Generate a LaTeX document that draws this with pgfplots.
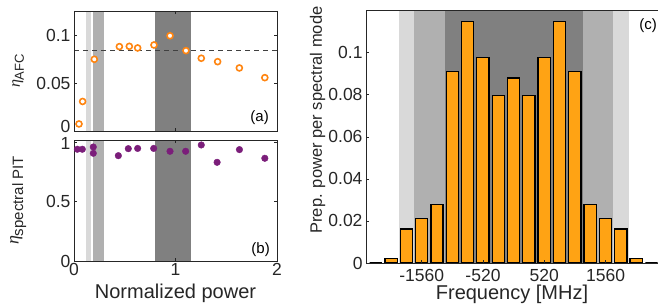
\documentclass[border=0pt]{standalone}
\usepackage{fontspec}
\setmainfont{Liberation Sans}
\newfontfamily\etafont{Liberation Serif}
\usepackage{pgfplots}
\pgfplotsset{compat=1.18}

\definecolor{axgray}{RGB}{38,38,38}
\definecolor{lgray}{RGB}{217,217,217}
\definecolor{mgray}{RGB}{176,176,176}
\definecolor{dgray}{RGB}{128,128,128}
\definecolor{morange}{RGB}{255,133,17}
\definecolor{barorange}{RGB}{255,163,20}
\definecolor{mpurple}{RGB}{123,30,122}

\newcommand{\tickfont}{\fontsize{17.5bp}{17.5bp}\selectfont}
\newcommand{\labfont}{\fontsize{20bp}{20bp}\selectfont}
\newcommand{\panfont}{\fontsize{15bp}{15bp}\selectfont}

\pgfplotsset{
 mystyle/.style={
  scale only axis,
  axis line style={axgray, line width=0.6pt},
  tick style={axgray, line width=0.6pt},
  major tick length=3bp,
  tick align=inside,
  ticklabel style={font=\tickfont, text=axgray},
  label style={text=axgray},
  axis on top,
 }
}

\pgfplotstableread{
x y
0.049 0.0074
0.085 0.031
0.200 0.0753
0.447 0.0886
0.545 0.0889
0.627 0.0872
0.788 0.0903
0.946 0.1000
1.103 0.0844
1.254 0.0764
1.415 0.0728
1.629 0.0662
1.880 0.0560
}\afcdata

\pgfplotstableread{
x y
0.033 0.942
0.082 0.942
0.190 0.961
0.190 0.908
0.437 0.888
0.535 0.947
0.627 0.949
0.785 0.949
0.946 0.925
1.100 0.925
1.254 0.978
1.410 0.832
1.630 0.939
1.880 0.866
}\pitdata

\pgfplotstableread{
f p
-2340 0
-2080 0.0022
-1820 0.0162
-1560 0.0211
-1300 0.0279
-1040 0.0910
-780 0.1147
-520 0.0977
-260 0.0795
0 0.0879
260 0.0795
520 0.0977
780 0.1147
1040 0.0910
1300 0.0279
1560 0.0211
1820 0.0162
2080 0.0022
2340 0
}\bardata

\begin{document}
\begin{tikzpicture}
\path[use as bounding box] (0,0) rectangle (658bp,305bp);

% Panel (a)
\begin{axis}[mystyle, at={(74bp,174bp)}, anchor=south west,
  width=203bp, height=120bp,
  xmin=0, xmax=2, ymin=0, ymax=0.126,
  xtick={0,1,2}, xticklabels={},
  ytick={0,0.05,0.1}, yticklabels={\raisebox{5bp}[\height][\depth]{0},0.05,0.1},
  ylabel={{\fontsize{16bp}{16bp}\selectfont\etafont\itshape η}\raisebox{-4bp}{\fontsize{13bp}{13bp}\selectfont AFC}},
  ylabel style={at={(axis description cs:-0.275,0.5)}, anchor=center},
]
\addplot[draw=none, fill=lgray] coordinates {(0.12,0.126) (0.17,0.126)} \closedcycle;
\addplot[draw=none, fill=mgray] coordinates {(0.185,0.126) (0.30,0.126)} \closedcycle;
\addplot[draw=none, fill=dgray] coordinates {(0.80,0.126) (1.155,0.126)} \closedcycle;
\addplot[color=black!75, line width=1pt, dash pattern=on 5bp off 4bp] coordinates {(0,0.085) (2,0.085)};
\addplot[only marks, mark=*, mark size=3bp, draw=morange, fill=white, line width=1.6pt] table[x=x,y=y] {\afcdata};
\node[anchor=south east, inner sep=0pt, font=\panfont, text=black] at (rel axis cs:1,0) [xshift=-8bp, yshift=6bp] {(a)};
\end{axis}

% Panel (b)
\begin{axis}[mystyle, at={(74bp,44bp)}, anchor=south west,
  width=203bp, height=121bp,
  xmin=0, xmax=2, ymin=0, ymax=1.02,
  xtick={0,1,2}, xticklabels={0,1,2},
  xticklabel style={inner sep=0pt, yshift=-2.5bp},
  ytick={0,0.5,1}, yticklabels={0,0.5,\raisebox{-1.5bp}[\height][\depth]{1}},
  xlabel={Normalized power},
  xlabel style={font=\labfont, at={(axis description cs:0.5,-0.306)}, anchor=base},
  ylabel={{\fontsize{18bp}{18bp}\selectfont\etafont\itshape η}\raisebox{-4.5bp}{\fontsize{15bp}{15bp}\selectfont spectral PIT}},
  ylabel style={at={(axis description cs:-0.275,0.5)}, anchor=center},
]
\addplot[draw=none, fill=lgray] coordinates {(0.12,1.02) (0.17,1.02)} \closedcycle;
\addplot[draw=none, fill=mgray] coordinates {(0.185,1.02) (0.30,1.02)} \closedcycle;
\addplot[draw=none, fill=dgray] coordinates {(0.80,1.02) (1.155,1.02)} \closedcycle;
\addplot[only marks, mark=*, mark size=3.3bp, draw=mpurple, fill=mpurple] table[x=x,y=y] {\pitdata};
\node[anchor=south east, inner sep=0pt, font=\panfont, text=black] at (rel axis cs:1,0) [xshift=-7bp, yshift=4bp] {(b)};
\end{axis}

% Panel (c)
\begin{axis}[mystyle, at={(366bp,42bp)}, anchor=south west,
  width=292bp, height=253bp,
  xmin=-2505, xmax=2450, ymin=0, ymax=0.1203,
  axis x line*=box, axis y line*=left,
  xtick={-1560,-520,520,1560},
  xticklabels={-1560,\raisebox{2.5bp}{-520},520,\raisebox{2.5bp}{1560}},
  xtick pos=left, ytick pos=left,
  xticklabel style={yshift=-3bp},
  ytick={0,0.02,0.04,0.06,0.08,0.1},
  yticklabels={0,0.02,0.04,0.06,0.08,0.1},
  xlabel={Frequency [MHz]},
  xlabel style={font=\labfont, at={(axis description cs:0.5,-0.146)}, anchor=base},
  ylabel={Prep. power per spectral mode},
  ylabel style={font=\fontsize{16.5bp}{16.5bp}\selectfont, at={(axis description cs:-0.166,0.565)}, anchor=center},
]
\addplot[draw=none, fill=lgray] coordinates {(-1950,0.1203) (1950,0.1203)} \closedcycle;
\addplot[draw=none, fill=mgray] coordinates {(-1690,0.1203) (1690,0.1203)} \closedcycle;
\addplot[draw=none, fill=dgray] coordinates {(-1170,0.1203) (1170,0.1203)} \closedcycle;
\addplot[ybar, bar width=208, fill=barorange, draw=black, line width=1.3pt] table[x=f,y=p] {\bardata};
\node[anchor=north east, inner sep=0pt, font=\panfont, text=black] at (rel axis cs:1,1) [xshift=-1bp, yshift=-8bp] {(c)};
\end{axis}
\end{tikzpicture}
\end{document}
